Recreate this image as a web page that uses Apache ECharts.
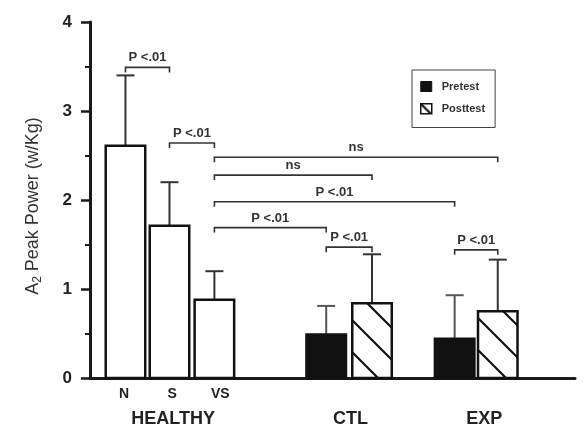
<!DOCTYPE html>
<html>
<head>
<meta charset="utf-8">
<script src="https://cdn.jsdelivr.net/npm/echarts@6/dist/echarts.min.js"></script>
<style>
  html, body { margin: 0; padding: 0; background: #fff; }
  #chart { width: 585px; height: 429px; }
</style>
</head>
<body>
<div id="chart"></div>
<script>
// healthy subjects, by walking speed
const healthyCats = ['N', 'S', 'VS'];
const healthyMean = [2.61, 1.71, 0.88];
const healthySD = [0.79, 0.49, 0.32];

// patient groups
const groupLabels = ['HEALTHY', 'CTL', 'EXP'];
const pretestMean = [0.49, 0.44];
const pretestSD = [0.32, 0.49];
const posttestMean = [0.84, 0.75];
const posttestSD = [0.55, 0.58];

// comparisons: [from bar, to bar, height (w/Kg), text]
// bars: 0 N, 1 S, 2 VS, 3 CTL pre, 4 CTL post, 5 EXP pre, 6 EXP post
const brackets = [
  [0, 1, 3.49, 'P <.01'],
  [1, 2, 2.64, 'P <.01'],
  [2, 6, 2.48, 'ns'],
  [2, 4, 2.28, 'ns'],
  [2, 5, 1.98, 'P <.01'],
  [2, 3, 1.69, 'P <.01'],
  [3, 4, 1.47, 'P <.01'],
  [5, 6, 1.44, 'P <.01']
];

const yTicks = [0, 1, 2, 3, 4];

// layout on the hidden x scale: bar centres, then label centres
const slot = [0.79, 1.77, 2.77, 5.26, 6.28, 8.12, 9.08];
const catPos = [0.76, 1.83, 2.9];
const groupPos = [1.85, 5.8, 8.78];
const xMax = 10.8;
const barW = 0.88;

const healthyData = healthyMean.map((m, i) => [slot[i], m, healthySD[i]]);
const pretestData = pretestMean.map((m, i) => [slot[3 + 2 * i], m, pretestSD[i]]);
const posttestData = posttestMean.map((m, i) => [slot[4 + 2 * i], m, posttestSD[i]]);
const bracketData = brackets.map(b => [slot[b[0]], slot[b[1]], b[2]]);

const font = 'Liberation Sans, Arial, sans-serif';
const ink = '#1a1a1a';

function hatch () {
  let c = document.createElement('canvas');
  c.width = 32;
  c.height = 32;
  let g = c.getContext('2d');
  g.strokeStyle = '#111';
  g.lineWidth = 2.2;
  g.beginPath();
  g.moveTo(-4, -4); g.lineTo(36, 36);
  g.moveTo(-4, 28); g.lineTo(4, 36);
  g.moveTo(28, -4); g.lineTo(36, 4);
  g.stroke();
  return c;
}
const hatchFill = { image: hatch(), repeat: 'repeat' };

function barRenderer (fill, errColor) {
  return function (params, api) {
    let x = api.value(0), m = api.value(1), sd = api.value(2);
    let base = api.coord([x, 0]);
    let top = api.coord([x, m]);
    let cap = api.coord([x, m + sd]);
    let w = api.size([barW, 0])[0];
    return {
      type: 'group',
      children: [
        { type: 'line', shape: { x1: top[0], y1: top[1], x2: cap[0], y2: cap[1] }, style: { stroke: errColor, lineWidth: 2 } },
        { type: 'line', shape: { x1: cap[0] - 9, y1: cap[1], x2: cap[0] + 9, y2: cap[1] }, style: { stroke: errColor, lineWidth: 2 } },
        { type: 'rect', shape: { x: base[0] - w / 2, y: top[1], width: w, height: base[1] - top[1] }, style: { fill: fill, stroke: '#111', lineWidth: 2.5 } }
      ]
    };
  };
}

function bracketRenderer (params, api) {
  let a = api.coord([api.value(0), api.value(2)]);
  let b = api.coord([api.value(1), api.value(2)]);
  let tick = 5;
  return {
    type: 'group',
    children: [
      {
        type: 'polyline',
        shape: { points: [[a[0], a[1] + tick], [a[0], a[1]], [b[0], b[1]], [b[0], b[1] + tick]] },
        style: { stroke: '#333', lineWidth: 1.6, fill: null }
      },
      {
        type: 'text',
        style: {
          text: brackets[params.dataIndex][3],
          x: (a[0] + b[0]) / 2,
          y: a[1] - 3,
          align: 'center',
          verticalAlign: 'bottom',
          font: 'bold 13px ' + font,
          fill: '#333'
        }
      }
    ]
  };
}

const chart = echarts.init(document.getElementById('chart'));
chart.setOption({
  animation: false,
  textStyle: { fontFamily: font },
  grid: { left: 90, right: 10, top: 22, bottom: 51 },
  legend: {
    data: [
      { name: 'Pretest', icon: 'rect', itemStyle: { color: '#111', borderColor: '#111', borderWidth: 1 } },
      { name: 'Posttest', icon: 'rect', itemStyle: { color: hatchFill, borderColor: '#111', borderWidth: 1.5 } }
    ],
    orient: 'vertical',
    left: 412,
    top: 70,
    padding: [11, 10, 13, 8],
    itemWidth: 11,
    itemHeight: 10,
    itemGap: 11,
    borderColor: '#444',
    borderWidth: 1,
    textStyle: { fontSize: 11, fontWeight: 'bold', color: '#333', padding: [0, 0, 0, 5] }
  },
  xAxis: [
    {
      type: 'value',
      min: 0,
      max: xMax,
      axisLine: { show: true, onZero: false, lineStyle: { color: ink, width: 3 } },
      axisTick: { show: false },
      splitLine: { show: false },
      axisLabel: {
        customValues: catPos,
        formatter: v => healthyCats[catPos.findIndex(s => Math.abs(s - v) < 1e-6)] || '',
        fontSize: 14,
        fontWeight: 'bold',
        color: '#222',
        margin: 9
      }
    },
    {
      type: 'value',
      position: 'bottom',
      offset: 27,
      min: 0,
      max: xMax,
      axisLine: { show: false },
      axisTick: { show: false },
      splitLine: { show: false },
      axisLabel: {
        customValues: groupPos,
        formatter: v => groupLabels[groupPos.findIndex(s => Math.abs(s - v) < 1e-6)] || '',
        fontSize: 18,
        fontWeight: 'bold',
        color: '#222',
        margin: 5
      }
    }
  ],
  yAxis: {
    type: 'value',
    min: yTicks[0],
    max: yTicks[yTicks.length - 1],
    interval: 1,
    name: '{a|A}{s|2}{a| Peak Power (w/Kg)}',
    nameLocation: 'middle',
    nameGap: 46,
    nameRotate: 90,
    nameTextStyle: {
      padding: [0, 12, 0, 0],
      rich: {
        a: { fontSize: 18, lineHeight: 21, color: '#333' },
        s: { fontSize: 12, lineHeight: 9, verticalAlign: 'bottom', color: '#333' }
      }
    },
    axisLine: { show: true, lineStyle: { color: ink, width: 3 } },
    axisTick: { show: true, length: 9, lineStyle: { color: ink, width: 2.5 } },
    minorTick: { show: true, splitNumber: 2, length: 5, lineStyle: { color: ink, width: 2 } },
    splitLine: { show: false },
    axisLabel: { fontSize: 17, fontWeight: 'bold', color: '#222', margin: 18 }
  },
  series: [
    { name: 'Healthy', type: 'custom', renderItem: barRenderer('#fff', '#333'), data: healthyData, encode: { x: 0, y: [1, 2] } },
    { name: 'Pretest', type: 'custom', renderItem: barRenderer('#111', '#555'), data: pretestData, encode: { x: 0, y: [1, 2] } },
    { name: 'Posttest', type: 'custom', renderItem: barRenderer(hatchFill, '#333'), data: posttestData, encode: { x: 0, y: [1, 2] } },
    { name: 'brackets', type: 'custom', renderItem: bracketRenderer, data: bracketData, encode: { x: [0, 1], y: 2 }, z: 3 }
  ]
});
</script>
</body>
</html>
